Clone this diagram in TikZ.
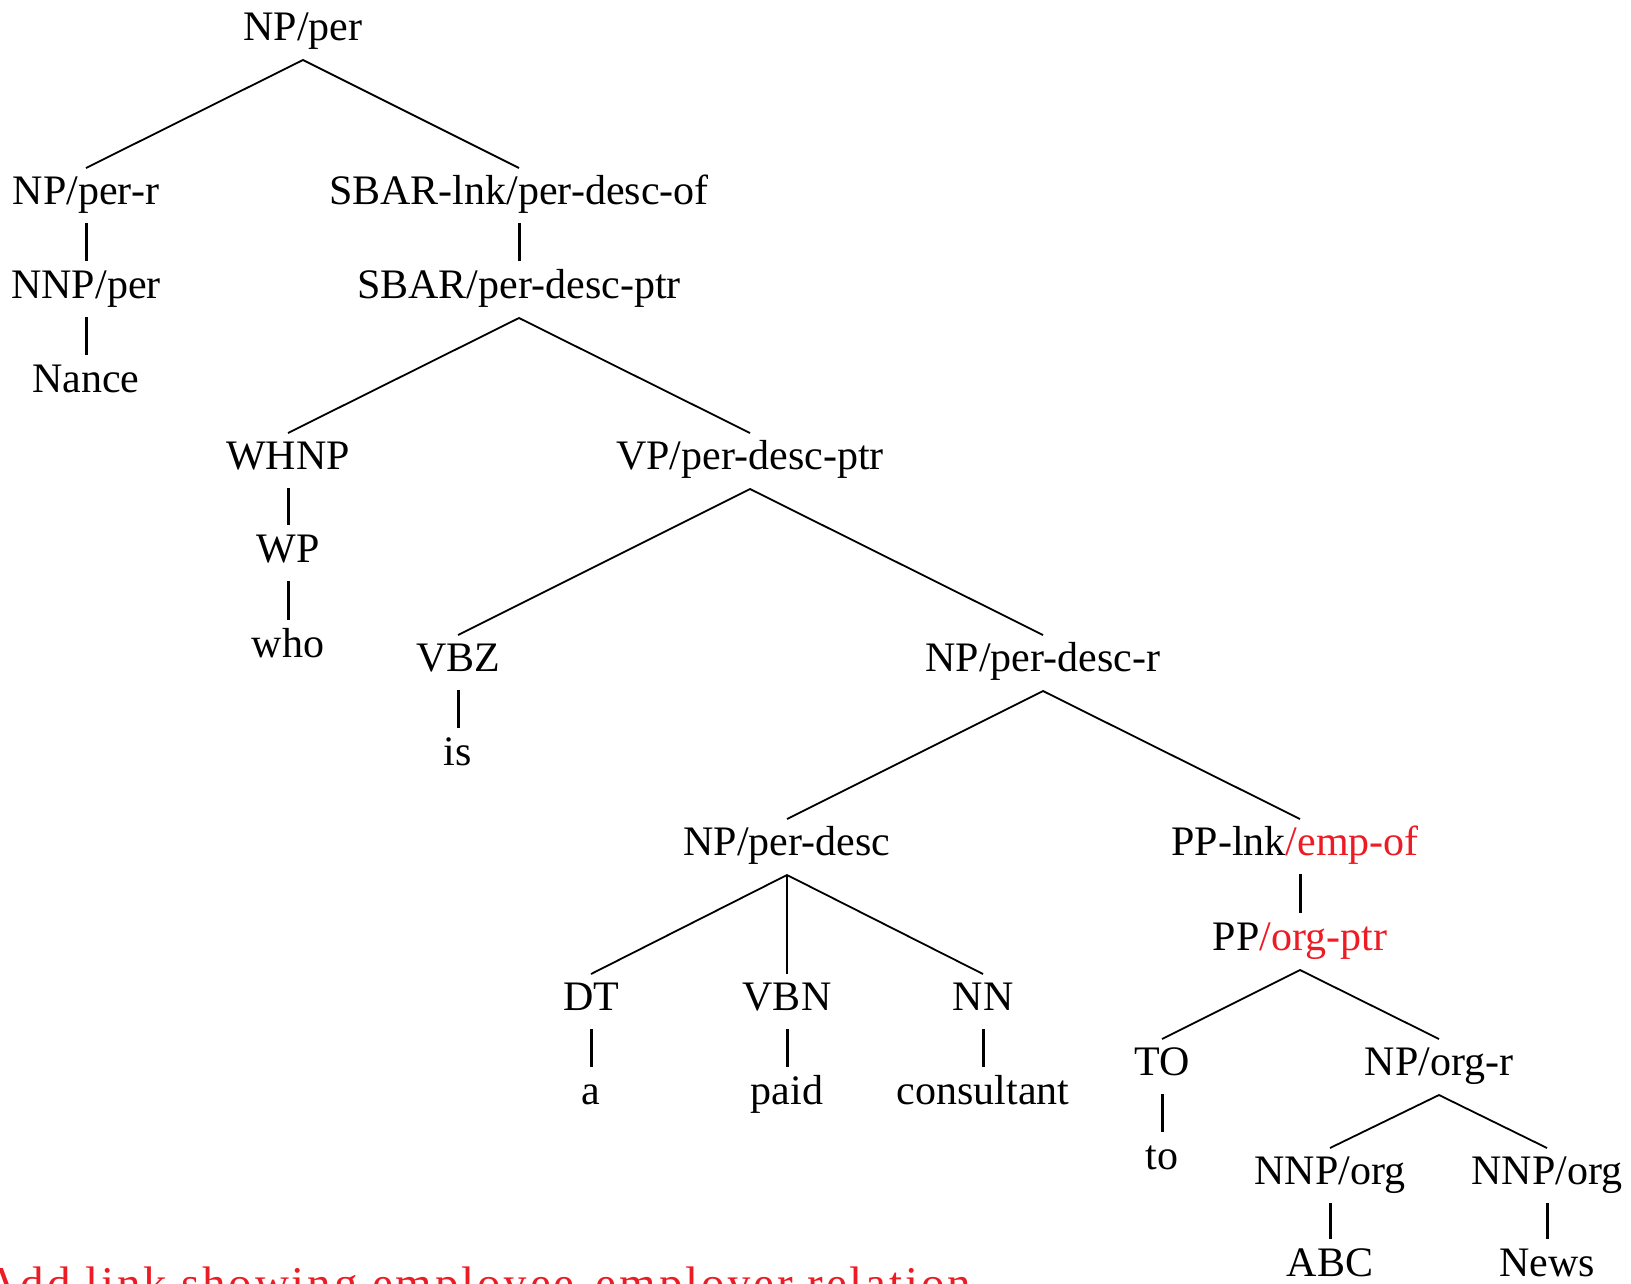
\documentclass[tikz,border=0pt]{standalone}
\usepackage{fontspec}
\setmainfont{Liberation Serif}
\newfontfamily\spacedfont[LetterSpace=6]{Liberation Serif}
\definecolor{redlbl}{RGB}{237,28,36}
\tikzset{
  lbl/.style={anchor=base, inner sep=0pt, font=\fontsize{42}{48}\selectfont},
  branch/.style={line width=1.8pt},
  unary/.style={line width=3pt},
}
\newcommand{\tdown}[1]{([yshift=-20pt]#1.base)}
\newcommand{\ttop}[1]{([yshift=36pt]#1.base)}
\newcommand{\uni}[2]{\draw[unary] ([yshift=-19pt]#1.base) -- ([yshift=37pt]#2.base);}
\begin{document}
\begin{tikzpicture}[x=1pt,y=-1pt]
\clip (0,0) rectangle (1631,1283);
\fill[white] (0,0) rectangle (1631,1283);
% nodes
\node[lbl] (root) at (303,40) {NP/per};
\node[lbl] (npr) at (86,204) {NP/per-r};
\node[lbl] (sbarlnk) at (519,204) {SBAR-lnk/per-desc-of};
\node[lbl] (nnpper) at (86,298) {NNP/per};
\node[lbl] (nance) at (86,392) {Nance};
\node[lbl] (sbar) at (519,298) {SBAR/per-desc-ptr};
\node[lbl] (whnp) at (288,469) {WHNP};
\node[lbl] (vp) at (750,469) {VP/per-desc-ptr};
\node[lbl] (wp) at (288,562) {WP};
\node[lbl] (who) at (288,657) {who};
\node[lbl] (vbz) at (458,671) {VBZ};
\node[lbl] (npdr) at (1043,671) {NP/per-desc-r};
\node[lbl] (is) at (458,765) {is};
\node[lbl] (npd) at (787,855) {NP/per-desc};
\node[lbl] (pplnk) at (1295,855) {PP-lnk\textcolor{redlbl}{/emp-of}};
\node[lbl] (pporg) at (1300,950) {PP\textcolor{redlbl}{/org-ptr}};
\node[lbl] (dt) at (591,1010) {DT};
\node[lbl] (vbn) at (787,1010) {VBN};
\node[lbl] (nn) at (983,1010) {NN};
\node[lbl] (a) at (591,1104) {a};
\node[lbl] (paid) at (787,1104) {paid};
\node[lbl] (cons) at (983,1104) {consultant};
\node[lbl] (to) at (1162,1075) {TO};
\node[lbl] (nporgr) at (1439,1075) {NP/org-r};
\node[lbl] (tow) at (1162,1169) {to};
\node[lbl] (nnpa) at (1330,1184) {NNP/org};
\node[lbl] (nnpb) at (1547,1184) {NNP/org};
\node[lbl] (abc) at (1330,1276) {ABC};
\node[lbl] (news) at (1547,1276) {News};
\node[anchor=base west, inner sep=0pt, text=redlbl, font=\spacedfont\fontsize{47}{53}\selectfont] (note) at (-16,1299) {Add link showing employee-employer relation};
% branches
\draw[branch] \ttop{npr} -- \tdown{root} -- \ttop{sbarlnk};
\draw[branch] \ttop{whnp} -- \tdown{sbar} -- \ttop{vp};
\draw[branch] \ttop{vbz} -- \tdown{vp} -- \ttop{npdr};
\draw[branch] \ttop{npd} -- \tdown{npdr} -- ([xshift=5pt,yshift=36pt]pplnk.base);
\draw[branch] \ttop{dt} -- \tdown{npd} -- \ttop{nn};
\draw[branch] \tdown{npd} -- \ttop{vbn};
\draw[branch] \ttop{to} -- \tdown{pporg} -- \ttop{nporgr};
\draw[branch] \ttop{nnpa} -- \tdown{nporgr} -- \ttop{nnpb};
% unary
\uni{npr}{nnpper}
\uni{nnpper}{nance}
\uni{sbarlnk}{sbar}
\uni{whnp}{wp}
\uni{wp}{who}
\uni{vbz}{is}
\draw[unary] ([xshift=5pt,yshift=-19pt]pplnk.base) -- ([yshift=37pt]pporg.base);
\uni{dt}{a}
\uni{vbn}{paid}
\uni{nn}{cons}
\uni{to}{tow}
\uni{nnpa}{abc}
\uni{nnpb}{news}
\end{tikzpicture}
\end{document}
